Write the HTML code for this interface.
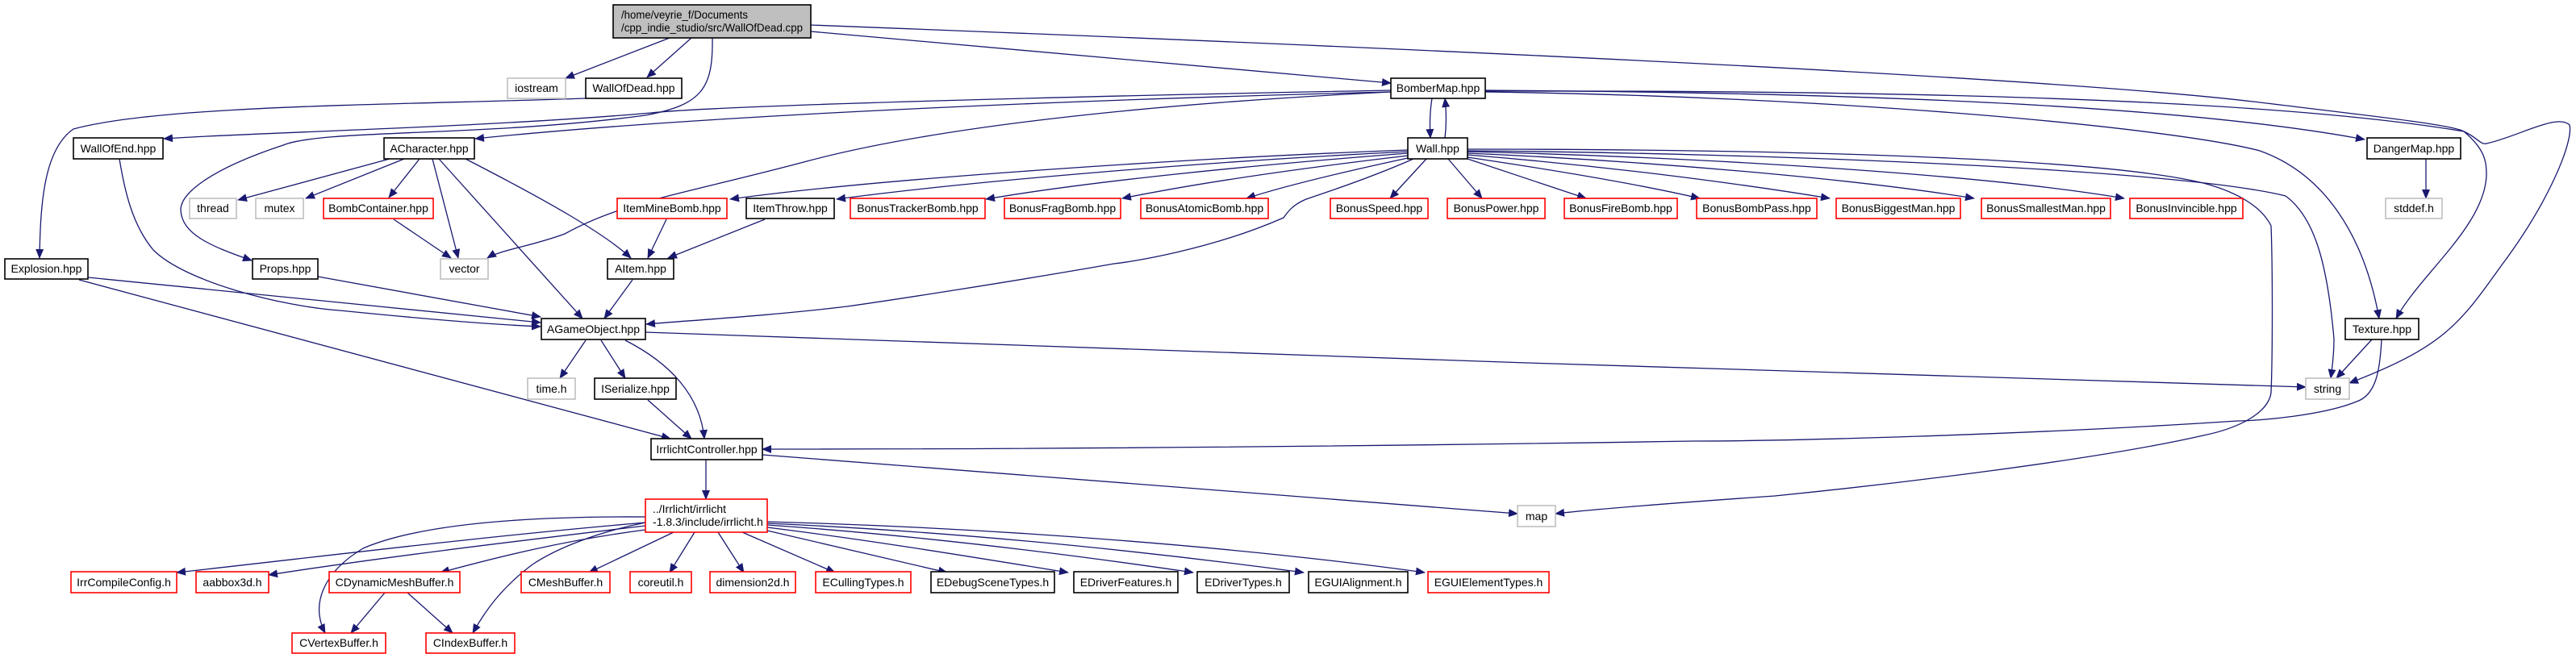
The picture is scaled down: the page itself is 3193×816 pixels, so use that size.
<!DOCTYPE html>
<html><head><meta charset="utf-8"><style>
html,body{margin:0;padding:0;background:#fff;}
svg{display:block;}
text{font-family:"Liberation Sans",Arial,sans-serif;font-size:14px;fill:#000;}
.n rect{fill:#fff;stroke:#000;stroke-width:1.6;}
.r rect{fill:#fff;stroke:#ff0000;stroke-width:1.6;}
.g rect{fill:#fff;stroke:#bfbfbf;stroke-width:1.6;}
path.e{fill:none;stroke:#191970;stroke-width:1.3;}
</style></head><body>
<svg width="3193" height="816" viewBox="0 0 3193 816" xmlns="http://www.w3.org/2000/svg">
<defs>
<marker id="a" markerWidth="12" markerHeight="10" refX="11" refY="5" orient="auto" markerUnits="userSpaceOnUse">
<path d="M0,0 L12,5 L0,10 z" fill="#191970"/>
</marker>
</defs>
<g marker-end="url(#a)">
<!-- cpp edges -->
<path class="e" d="M830,47 L701,97"/>
<path class="e" d="M857,47 L802,96"/>
<path class="e" d="M883,47 C884,110 870,130 800,143 C600,170 400,160 351,180 C260,210 224,240 224,260 C225,290 260,305 312,323"/>
<path class="e" d="M1005,39 L1724,103"/>
<path class="e" d="M1005,31 C1500,50 2500,90 2801,127 C2950,145 3040,155 3054,163 C3080,185 3082,200 3082,217 C3080,280 3000,340 2970,395"/>
<!-- WallOfDead -> Explosion -->
<path class="e" d="M726,122 C500,130 200,130 91,160 C55,185 50,250 49,320"/>
<!-- BomberMap edges -->
<path class="e" d="M1724,112 C1400,118 900,130 807,140 C600,158 300,165 203,172"/>
<path class="e" d="M1724,114 C1400,122 900,140 589,172"/>
<path class="e" d="M1724,114 C1400,130 1150,160 1000,200 C850,240 772,250 700,290 C660,305 620,310 604,320"/>
<path class="e" d="M1775,122 C1772,140 1772,155 1773,171"/>
<path class="e" d="M1791,171 C1793,155 1793,140 1791,122"/>
<path class="e" d="M1841,112 C2300,115 2700,130 2931,173"/>
<path class="e" d="M1841,114 C2300,120 2700,160 2801,187 C2880,215 2930,290 2949,395"/>
<path class="e" d="M1841,113 C2300,112 2800,120 3054,163 C3070,170 3075,180 3082,178 C3120,170 3170,140 3185,155 C3190,175 3160,250 3100,330 C3050,400 3030,430 2912,475"/>
<!-- Wall edges -->
<path class="e" d="M1752,197 C1700,220 1640,240 1619,247 C1600,255 1595,265 1591,270 C1500,310 1400,325 1381,327 C1250,350 1100,373 1050,380 C950,392 860,397 801,402"/>
<path class="e" d="M1745,186 C1500,195 1100,220 905,247"/>
<path class="e" d="M1745,188 C1500,200 1200,225 1037,247"/>
<path class="e" d="M1745,190 C1550,205 1350,225 1222,247"/>
<path class="e" d="M1745,193 C1600,210 1480,228 1391,246"/>
<path class="e" d="M1745,196 C1680,210 1600,228 1545,246"/>
<path class="e" d="M1768,197 L1723,246"/>
<path class="e" d="M1795,197 L1837,246"/>
<path class="e" d="M1819,197 L1966,246"/>
<path class="e" d="M1819,195 C1920,210 2030,228 2107,246"/>
<path class="e" d="M1819,192 C1980,205 2140,225 2268,246"/>
<path class="e" d="M1819,190 C2050,200 2300,222 2447,246"/>
<path class="e" d="M1819,188 C2100,195 2450,215 2633,246"/>
<path class="e" d="M1819,185 C2200,185 2600,195 2731,227 C2780,240 2805,260 2815,280 C2817,330 2817,440 2815,487 C2812,510 2780,530 2731,540 C2600,570 2350,600 2200,615 C2100,622 1990,630 1928,637"/>
<path class="e" d="M1819,187 C2200,190 2700,210 2833,243 C2870,270 2885,330 2893,420 C2893,440 2891,455 2889,469"/>
<!-- ACharacter edges -->
<path class="e" d="M483,197 L295,248"/>
<path class="e" d="M501,197 L379,246"/>
<path class="e" d="M520,197 L482,245"/>
<path class="e" d="M536,197 L568,320"/>
<path class="e" d="M544,197 L722,395"/>
<path class="e" d="M577,197 C680,250 750,290 782,320"/>
<path class="e" d="M488,272 L559,320"/>
<path class="e" d="M826,272 L803,320"/>
<path class="e" d="M948,272 L828,320"/>
<path class="e" d="M784,347 L749,395"/>
<path class="e" d="M394,343 L670,393"/>
<path class="e" d="M109,344 L670,400"/>
<path class="e" d="M148,197 C155,240 165,280 190,310 C230,350 350,380 421,385 C520,395 600,402 670,405"/>
<path class="e" d="M98,347 L831,544"/>
<!-- AGameObject edges -->
<path class="e" d="M800,412 C1300,430 2300,465 2858,480"/>
<path class="e" d="M726,422 L694,469"/>
<path class="e" d="M745,422 L775,469"/>
<path class="e" d="M775,422 C830,450 868,490 873,544"/>
<path class="e" d="M803,496 L857,544"/>
<!-- Texture edges -->
<path class="e" d="M2940,421 L2896,469"/>
<path class="e" d="M2952,421 C2950,460 2945,490 2921,498 C2880,515 2800,522 2773,522 C2500,540 2200,547 2100,547 C1600,555 1200,557 945,557"/>
<!-- Irrlicht controller -->
<path class="e" d="M945,564 C1300,590 1600,615 1881,637"/>
<path class="e" d="M875,570 L875,619"/>
<!-- DangerMap -->
<path class="e" d="M3007,197 L3007,246"/>
<!-- irrlicht.h edges -->
<path class="e" d="M800,648 C600,665 400,690 219,710"/>
<path class="e" d="M800,652 C650,670 480,690 333,713"/>
<path class="e" d="M800,657 C700,670 620,690 546,710"/>
<path class="e" d="M800,641 C650,640 520,650 450,680 C400,710 385,750 403,785"/>
<path class="e" d="M800,648 C740,660 690,680 660,700 C620,730 600,760 586,785"/>
<path class="e" d="M835,660 L730,710"/>
<path class="e" d="M861,660 L830,710"/>
<path class="e" d="M890,660 L922,710"/>
<path class="e" d="M920,660 L1035,710"/>
<path class="e" d="M951,658 L1174,710"/>
<path class="e" d="M951,654 C1080,670 1200,690 1324,710"/>
<path class="e" d="M951,651 C1150,665 1330,688 1479,710"/>
<path class="e" d="M951,649 C1200,660 1430,685 1616,710"/>
<path class="e" d="M951,647 C1250,655 1550,680 1766,710"/>
<path class="e" d="M477,735 L435,785"/>
<path class="e" d="M505,735 L561,785"/>
</g>

<!-- Nodes -->
<g><rect x="760" y="6" width="245" height="41" fill="#bfbfbf" stroke="#000" stroke-width="1.6"/>
<text x="770" y="23" textLength="157" lengthAdjust="spacingAndGlyphs">/home/veyrie_f/Documents</text>
<text x="770" y="39" textLength="225" lengthAdjust="spacingAndGlyphs">/cpp_indie_studio/src/WallOfDead.cpp</text></g>

<g class="g"><rect x="629" y="97" width="72" height="25"/><text x="665" y="114" text-anchor="middle">iostream</text></g>
<g class="n"><rect x="726" y="97" width="119" height="25"/><text x="785.5" y="114" text-anchor="middle">WallOfDead.hpp</text></g>
<g class="n"><rect x="1724" y="97" width="117" height="25"/><text x="1782.5" y="114" text-anchor="middle">BomberMap.hpp</text></g>

<g class="n"><rect x="91" y="171" width="111" height="26"/><text x="146.5" y="189" text-anchor="middle">WallOfEnd.hpp</text></g>
<g class="n"><rect x="476" y="171" width="112" height="26"/><text x="532" y="189" text-anchor="middle">ACharacter.hpp</text></g>
<g class="n"><rect x="1745" y="171" width="74" height="26"/><text x="1782" y="189" text-anchor="middle">Wall.hpp</text></g>
<g class="n"><rect x="2934" y="171" width="116" height="26"/><text x="2992" y="189" text-anchor="middle">DangerMap.hpp</text></g>

<g class="g"><rect x="235" y="246" width="58" height="25"/><text x="264" y="263" text-anchor="middle">thread</text></g>
<g class="g"><rect x="317" y="246" width="59" height="25"/><text x="346.5" y="263" text-anchor="middle">mutex</text></g>
<g class="r"><rect x="401" y="246" width="136" height="25"/><text x="469" y="263" text-anchor="middle">BombContainer.hpp</text></g>
<g class="r"><rect x="765" y="246" width="136" height="25"/><text x="833" y="263" text-anchor="middle">ItemMineBomb.hpp</text></g>
<g class="n"><rect x="925" y="246" width="109" height="25"/><text x="979.5" y="263" text-anchor="middle">ItemThrow.hpp</text></g>
<g class="r"><rect x="1054" y="246" width="167" height="25"/><text x="1137.5" y="263" text-anchor="middle">BonusTrackerBomb.hpp</text></g>
<g class="r"><rect x="1245" y="246" width="144" height="25"/><text x="1317" y="263" text-anchor="middle">BonusFragBomb.hpp</text></g>
<g class="r"><rect x="1414" y="246" width="158" height="25"/><text x="1493" y="263" text-anchor="middle">BonusAtomicBomb.hpp</text></g>
<g class="r"><rect x="1649" y="246" width="121" height="25"/><text x="1709.5" y="263" text-anchor="middle">BonusSpeed.hpp</text></g>
<g class="r"><rect x="1794" y="246" width="121" height="25"/><text x="1854.5" y="263" text-anchor="middle">BonusPower.hpp</text></g>
<g class="r"><rect x="1939" y="246" width="140" height="25"/><text x="2009" y="263" text-anchor="middle">BonusFireBomb.hpp</text></g>
<g class="r"><rect x="2103" y="246" width="149" height="25"/><text x="2177.5" y="263" text-anchor="middle">BonusBombPass.hpp</text></g>
<g class="r"><rect x="2276" y="246" width="154" height="25"/><text x="2353" y="263" text-anchor="middle">BonusBiggestMan.hpp</text></g>
<g class="r"><rect x="2456" y="246" width="160" height="25"/><text x="2536" y="263" text-anchor="middle">BonusSmallestMan.hpp</text></g>
<g class="r"><rect x="2640" y="246" width="140" height="25"/><text x="2710" y="263" text-anchor="middle">BonusInvincible.hpp</text></g>
<g class="g"><rect x="2957" y="246" width="70" height="25"/><text x="2992" y="263" text-anchor="middle">stddef.h</text></g>

<g class="n"><rect x="6" y="321" width="103" height="25"/><text x="57.5" y="338" text-anchor="middle">Explosion.hpp</text></g>
<g class="n"><rect x="313" y="321" width="81" height="25"/><text x="353.5" y="338" text-anchor="middle">Props.hpp</text></g>
<g class="g"><rect x="546" y="321" width="59" height="25"/><text x="575.5" y="338" text-anchor="middle">vector</text></g>
<g class="n"><rect x="753" y="321" width="82" height="25"/><text x="794" y="338" text-anchor="middle">AItem.hpp</text></g>

<g class="n"><rect x="671" y="395" width="129" height="26"/><text x="735.5" y="413" text-anchor="middle">AGameObject.hpp</text></g>
<g class="n"><rect x="2907" y="395" width="91" height="26"/><text x="2952.5" y="413" text-anchor="middle">Texture.hpp</text></g>

<g class="g"><rect x="654" y="469" width="59" height="26"/><text x="683.5" y="487" text-anchor="middle">time.h</text></g>
<g class="n"><rect x="737" y="469" width="101" height="26"/><text x="787.5" y="487" text-anchor="middle">ISerialize.hpp</text></g>
<g class="g"><rect x="2858" y="469" width="54" height="26"/><text x="2885" y="487" text-anchor="middle">string</text></g>

<g class="n"><rect x="807" y="544" width="138" height="26"/><text x="876" y="562" text-anchor="middle">IrrlichtController.hpp</text></g>
<g class="g"><rect x="1881" y="627" width="47" height="26"/><text x="1904.5" y="645" text-anchor="middle">map</text></g>

<g class="r"><rect x="800" y="619" width="151" height="41"/>
<text x="809" y="636">../Irrlicht/irrlicht</text>
<text x="809" y="652">-1.8.3/include/irrlicht.h</text></g>

<g class="r"><rect x="88" y="709" width="131" height="26"/><text x="153.5" y="727" text-anchor="middle">IrrCompileConfig.h</text></g>
<g class="r"><rect x="243" y="709" width="90" height="26"/><text x="288" y="727" text-anchor="middle">aabbox3d.h</text></g>
<g class="r"><rect x="408" y="709" width="162" height="26"/><text x="489" y="727" text-anchor="middle">CDynamicMeshBuffer.h</text></g>
<g class="r"><rect x="646" y="709" width="110" height="26"/><text x="701" y="727" text-anchor="middle">CMeshBuffer.h</text></g>
<g class="r"><rect x="781" y="709" width="76" height="26"/><text x="819" y="727" text-anchor="middle">coreutil.h</text></g>
<g class="r"><rect x="880" y="709" width="106" height="26"/><text x="933" y="727" text-anchor="middle">dimension2d.h</text></g>
<g class="r"><rect x="1011" y="709" width="118" height="26"/><text x="1070" y="727" text-anchor="middle">ECullingTypes.h</text></g>
<g class="n"><rect x="1154" y="709" width="153" height="26"/><text x="1230.5" y="727" text-anchor="middle">EDebugSceneTypes.h</text></g>
<g class="n"><rect x="1331" y="709" width="129" height="26"/><text x="1395.5" y="727" text-anchor="middle">EDriverFeatures.h</text></g>
<g class="n"><rect x="1484" y="709" width="114" height="26"/><text x="1541" y="727" text-anchor="middle">EDriverTypes.h</text></g>
<g class="n"><rect x="1622" y="709" width="123" height="26"/><text x="1683.5" y="727" text-anchor="middle">EGUIAlignment.h</text></g>
<g class="r"><rect x="1770" y="709" width="150" height="26"/><text x="1845" y="727" text-anchor="middle">EGUIElementTypes.h</text></g>

<g class="r"><rect x="362" y="785" width="116" height="25"/><text x="420" y="802" text-anchor="middle">CVertexBuffer.h</text></g>
<g class="r"><rect x="528" y="785" width="110" height="25"/><text x="583" y="802" text-anchor="middle">CIndexBuffer.h</text></g>
</svg>
</body></html>
